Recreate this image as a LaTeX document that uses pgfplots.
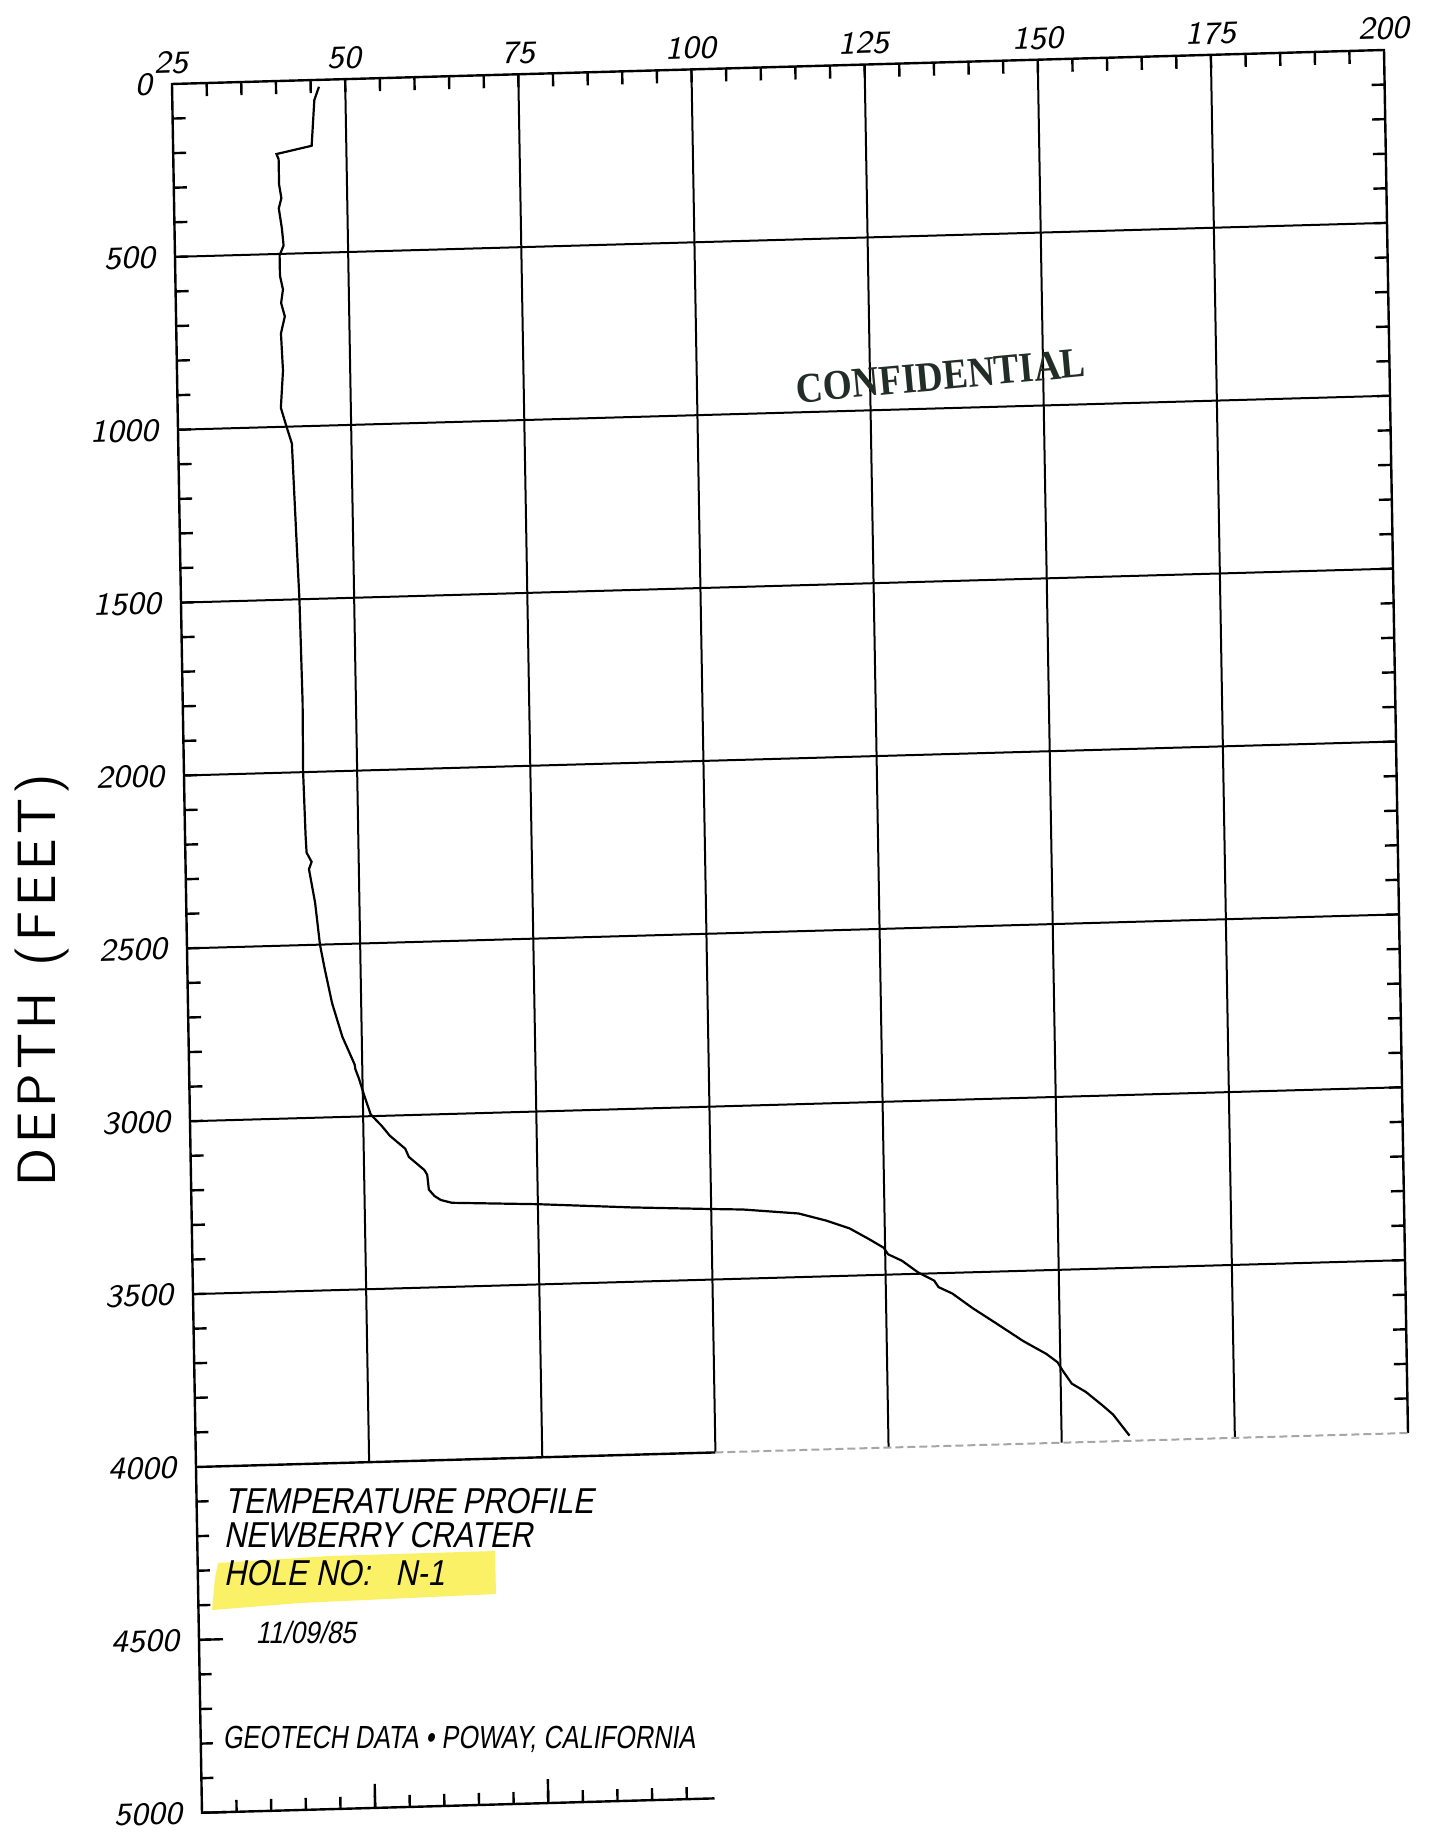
\documentclass[border=0pt]{standalone}
\usepackage{fontspec}
\setmainfont{Liberation Sans}
\newfontfamily\titlefont{Liberation Sans}[FakeSlant=0.2,FakeStretch=0.85]
\newfontfamily\footfont{Liberation Sans}[FakeSlant=0.15,FakeStretch=0.79]
\newfontfamily\stampfont{Liberation Serif}[FakeStretch=0.88]
\usepackage{pgfplots}
\usepackage{pgfplotstable}
\pgfplotsset{compat=1.18}

\definecolor{stamp}{RGB}{35,45,40}
\definecolor{marker}{RGB}{250,240,85}
\newcommand\ls{\kern1.1pt}

% temperature (deg F) against depth (ft)
\pgfplotstableread{
temp depth
46.2 20
45.5 58
45.0 190
39.9 211
40.2 226
40.2 299
40.5 339
40.1 368
40.5 427
40.7 476
40.1 504
40.1 563
40.5 603
40.2 642
40.7 681
40.1 730
40.3 838
39.9 945
40.7 1002
41.4 1049
41.6 1181
41.9 1376
42.1 1500
42.3 1798
42.2 2000
42.4 2185
42.5 2233
43.2 2260
42.8 2281
43.6 2378
44.2 2500
44.8 2568
45.8 2670
47.2 2768
48.9 2849
49.0 2863
49.5 2891
50.2 2939
51.1 2995
52.7 3030
53.8 3058
56.0 3097
56.5 3121
58.7 3160
59.1 3174
59.3 3217
60.1 3236
61.0 3248
62.6 3257
75.0 3268
88.6 3285
100.0 3296
104.6 3300
112.6 3316
116.6 3339
119.9 3363
122.8 3397
124.8 3422
125.4 3441
127.4 3461
129.7 3496
132.0 3521
132.6 3540
134.6 3560
137.5 3604
140.8 3649
144.7 3703
148.0 3742
149.6 3767
150.3 3791
151.6 3830
153.6 3855
155.9 3894
157.5 3923
159.8 3985
}\profile

\begin{document}
\begin{tikzpicture}

% the scanned sheet is slightly skewed
\begin{scope}[transform canvas={shift={(43pt,-21pt)}, cm={1,0.02805,-0.01735,1,(0,0)}, shift={(-43pt,21pt)}}]

\begin{axis}[
  name=upper,
  at={(43pt,-21pt)}, anchor=north west,
  width=303pt, height=345.75pt, scale only axis,
  xmin=25, xmax=200, ymin=-4000, ymax=0,
  clip=false,
  axis line style={draw=none},
  tick align=inside,
  xtick={50,75,100,125,150,175},
  xticklabels={50,75,100,125,150,175},
  extra x ticks={25,200},
  extra x tick labels={25,200},
  extra x tick style={grid=none},
  minor xtick={30,35,...,195},
  xtick pos=right, xticklabel pos=right,
  ytick={-3500,-3000,...,-500},
  yticklabels={3500,3000,2500,2000,1500,1000,500},
  extra y ticks={-4000,0},
  extra y tick labels={4000,0},
  extra y tick style={grid=none},
  minor ytick={-3900,-3800,...,-100},
  ytick pos=both, yticklabel pos=left,
  major tick length=0pt, minor tick length=3.25pt,
  minor tick style={black,line width=0.6pt},
  grid=major,
  major grid style={black,line width=0.5pt},
  ticklabel style={font=\sffamily\itshape\fontsize{8}{9}\selectfont},
  xticklabel style={yshift=-1pt},
  yticklabel style={xshift=-1.5pt},
]
\addplot[black, line width=0.55pt] table[x=temp, y expr=-\thisrow{depth}] {\profile};
\draw[line width=0.6pt] (axis cs:25,-4000) -- (axis cs:25,0) -- (axis cs:200,0) -- (axis cs:200,-4000);
\draw[line width=0.6pt] (axis cs:25,-4000) -- (axis cs:100,-4000);
\draw[line width=0.5pt, black!35, dash pattern=on 2pt off 1pt] (axis cs:100,-4000) -- (axis cs:200,-4000);
\end{axis}

\begin{axis}[
  at={(upper.south west)}, anchor=north west,
  width=129.857pt, height=86.4375pt, scale only axis,
  xmin=25, xmax=100, ymin=-5000, ymax=-4000,
  clip=false,
  axis line style={draw=none},
  tick align=inside,
  xtick={50,75}, xticklabels={},
  minor xtick={30,35,...,95},
  xtick pos=left,
  ytick={-5000,-4500}, yticklabels={5000,4500},
  minor ytick={-4900,-4800,...,-4100},
  ytick pos=left, yticklabel pos=left,
  major tick length=6pt, minor tick length=3pt,
  major tick style={black,line width=0.6pt},
  minor tick style={black,line width=0.6pt},
  ticklabel style={font=\sffamily\itshape\fontsize{8}{9}\selectfont},
  yticklabel style={xshift=-1.5pt},
]
\draw[line width=0.6pt] (axis cs:25,-4000) -- (axis cs:25,-5000) -- (axis cs:99,-5000);
\end{axis}

\end{scope}

\begin{scope}[x=0.25pt, y=-0.25pt]
% highlighter strokes behind the hole number
\fill[marker, opacity=0.9] (212,1610) -- (215,1578) -- (218,1563) -- (330,1556) -- (495,1551)
  -- (496,1594) -- (300,1603) -- cycle;
\node[anchor=base west, inner sep=0, font=\titlefont\fontsize{9}{11}\selectfont] at (224,1513) {TEMPERATURE PROFILE};
\node[anchor=base west, inner sep=0, font=\titlefont\fontsize{9}{11}\selectfont] at (223,1547) {NEWBERRY CRATER};
\node[anchor=base west, inner sep=0, font=\titlefont\fontsize{9}{11}\selectfont] at (223,1585) {HOLE NO:\hspace{0.7em}N-1};
\node[anchor=base west, inner sep=0, font=\titlefont\fontsize{7.7}{9}\selectfont] at (255,1643) {11/09/85};
\node[anchor=base west, inner sep=0, font=\footfont\fontsize{8}{9}\selectfont] at (222,1748) {GEOTECH DATA \textbullet{} POWAY, CALIFORNIA};
\node[rotate=90, inner sep=0, font=\sffamily\fontsize{13.5}{15}\selectfont] at (42,980) {D\ls E\ls P\ls T\ls H\ls{} \ls(\ls F\ls E\ls E\ls T\ls)};
\node[rotate=5.3, inner sep=0, text=stamp, font=\stampfont\bfseries\fontsize{10.6}{12}\selectfont] at (941,376) {CONFIDENTIAL};
\end{scope}

\pgfresetboundingbox
\path[use as bounding box] (0,0) rectangle (357pt,-459.25pt);
\end{tikzpicture}
\end{document}
